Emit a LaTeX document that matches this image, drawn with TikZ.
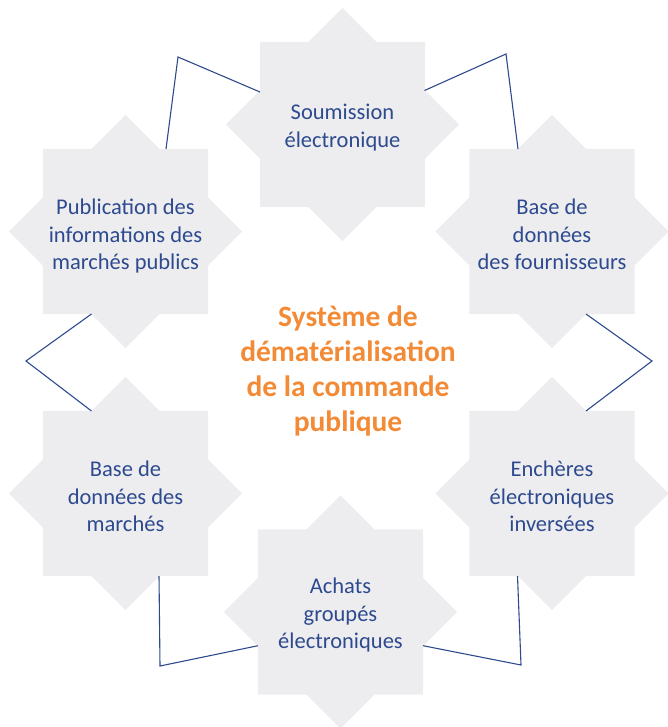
\documentclass[tikz,border=0pt]{standalone}
\usepackage{fontspec}
\setmainfont{Carlito}
\usetikzlibrary{shapes.geometric,calc}
\definecolor{stargray}{HTML}{EDEDF0}
\definecolor{textblue}{HTML}{2E4A8E}
\definecolor{titleorange}{HTML}{F28A36}
\tikzset{
  octa/.style={star, star points=8, star point ratio=1.3066, minimum size=233.4pt,
    inner sep=0pt, fill=stargray},
  octatext/.style={text=textblue, align=center, inner sep=0pt, yshift=-3pt,
    font=\fontsize{22.5}{27.5}\selectfont},
  link/.style={draw=textblue, line width=1.1pt}
}
\begin{document}
\begin{tikzpicture}[x=1pt,y=-1pt]
            \useasboundingbox (0,0) rectangle (667,727);
            \node[octa] (soum) at (342.5,124.5) {};
            \node[octa] (pub) at (125.5,231.5) {};
            \node[octa] (four) at (552,231.5) {};
            \node[octa] (marc) at (125.5,493.5) {};
            \node[octa] (ench) at (552,493.5) {};
            \node[octa] (acha) at (340.5,612) {};
            \node[octatext] (soumt) at (soum) {Soumission\\électronique};
            \node[octatext, yshift=-2pt] (pubt) at (pub) {Publication des\\informations des\\marchés publics};
            \node[octatext] (fourt) at (four) {Base de\\données\\des fournisseurs};
            \node[octatext] (marct) at (marc) {Base de\\données des\\marchés};
            \node[octatext] (encht) at (ench) {Enchères\\électroniques\\inversées};
            \node[octatext] (achat) at (acha) {Achats\\groupés\\électroniques};
            \node[text=titleorange, align=center, font=\fontsize{29.5}{35}\selectfont\bfseries] (sys) at (348,371) {Système de\\dématérialisation\\de la commande\\publique};

            \coordinate (k1) at (178,57);
            \coordinate (k2) at (506,54);
            \coordinate (k3) at (652,361);
            \coordinate (k4) at (521,665);
            \coordinate (k5) at (160,666);
            \coordinate (k6) at (26,361);

            \draw[link] ($(pub)+(40.5,-82.5)$) -- (k1) -- ($(soum)+(-82.5,-32.5)$);
            \draw[link] ($(soum)+(82,-34)$) -- (k2) -- ($(four)+(-34,-82.5)$);
            \draw[link] ($(four)+(34,82.5)$) -- (k3) -- ($(ench)+(34,-82.5)$);
            \draw[link] ($(ench)+(-34.5,82.5)$) -- (k4) -- ($(acha)+(82.5,33.7)$);
            \draw[link] ($(acha)+(-82.5,33.7)$) -- (k5) -- ($(marc)+(33.5,82.5)$);
            \draw[link] ($(marc)+(-34,-82.5)$) -- (k6) -- ($(pub)+(-34,82.5)$);
        \end{tikzpicture}
\end{document}
